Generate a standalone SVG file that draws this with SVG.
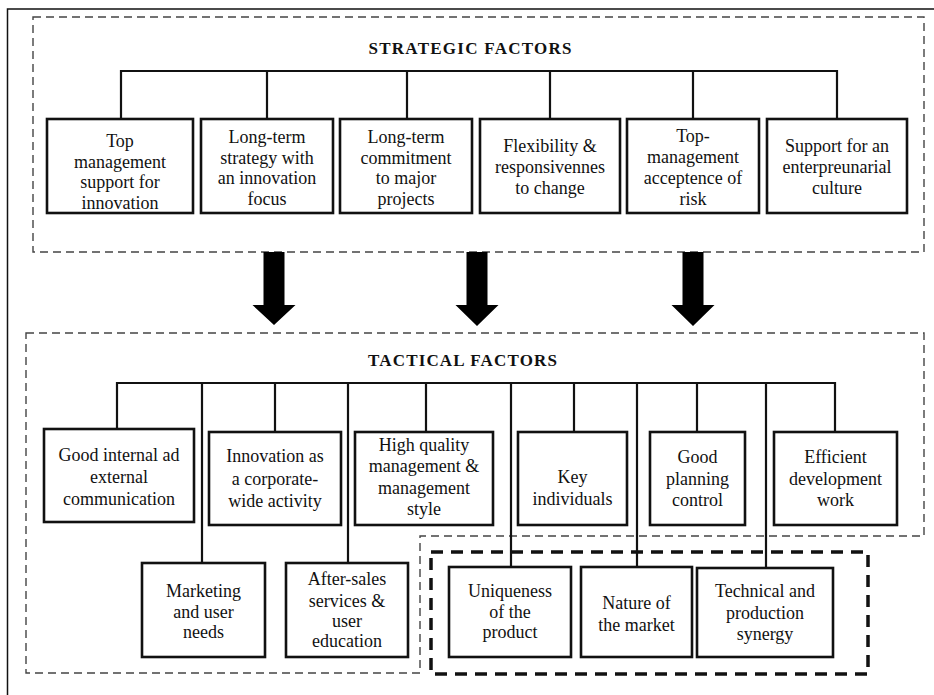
<svg xmlns="http://www.w3.org/2000/svg" width="934" height="695" viewBox="0 0 934 695">
<style>
.bg{fill:#fff}
.frame{fill:none;stroke:#111;stroke-width:1.5}
.dash{fill:none;stroke:#444;stroke-width:1.4;stroke-dasharray:8 5}
.bold{fill:none;stroke:#111;stroke-width:3.5;stroke-dasharray:12 8}
.box{fill:#fff;stroke:#111;stroke-width:2.6}
.con{fill:none;stroke:#111;stroke-width:2.2}
.arrow{fill:#000}
text{font-family:"Liberation Serif","Times New Roman",serif;font-size:18px;fill:#111;text-anchor:middle}
.title{font-weight:bold;font-size:17px}
</style>
<rect class="bg" x="0" y="0" width="934" height="695"/>
<path class="frame" d="M7.5,695 V9 H934"/>

<g id="strategic-group">
<rect class="dash" x="33" y="17" width="891" height="235"/>
<text class="title" x="470" y="53.5" textLength="203" lengthAdjust="spacing">STRATEGIC FACTORS</text>
</g>

<g id="tactical-group">
<path class="dash" d="M26,333 H924 V536 H420 V673 H26 Z"/>
<text class="title" x="462.5" y="365.5" textLength="189" lengthAdjust="spacing">TACTICAL FACTORS</text>
</g>

<g id="product-group">
<rect class="bold" x="431" y="552" width="437" height="122"/>
</g>

<g id="connectors">
<path class="con" d="M121,119 V71 H837 V119 M267,71 V119 M407,71 V119 M550,71 V119 M693,71 V119"/>
<path class="con" d="M117,429 V383 H835 V432 M202,383 V563 M275,383 V432 M348,383 V563 M426,383 V432 M511,383 V567 M574,383 V432 M637,383 V567 M697,383 V432 M766,383 V568"/>
<polygon class="arrow" points="263.5,252 284.5,252 284.5,305 295.5,305 274,325 252.5,305 263.5,305"/>
<polygon class="arrow" points="466.5,252 487.5,252 487.5,305 498.5,305 477,326 455.5,305 466.5,305"/>
<polygon class="arrow" points="682.5,252 703.5,252 703.5,305 714.5,305 693,326 671.5,305 682.5,305"/>
</g>

<g id="s1"><rect class="box" x="47" y="119" width="146" height="94"/>
<text x="120" y="147">Top</text><text x="120" y="167.5">management</text><text x="120" y="188">support for</text><text x="120" y="209">innovation</text></g>
<g id="s2"><rect class="box" x="201" y="119" width="132" height="94"/>
<text x="267" y="143">Long-term</text><text x="267" y="164">strategy with</text><text x="267" y="184">an innovation</text><text x="267" y="205">focus</text></g>
<g id="s3"><rect class="box" x="340" y="119" width="132" height="94"/>
<text x="406" y="143">Long-term</text><text x="406" y="164">commitment</text><text x="406" y="184">to major</text><text x="406" y="205">projects</text></g>
<g id="s4"><rect class="box" x="480" y="119" width="140" height="94"/>
<text x="550" y="152">Flexibility &amp;</text><text x="550" y="173">responsivennes</text><text x="550" y="194">to change</text></g>
<g id="s5"><rect class="box" x="627" y="119" width="132" height="94"/>
<text x="693" y="142">Top-</text><text x="693" y="163">management</text><text x="693" y="184">acceptence of</text><text x="693" y="205">risk</text></g>
<g id="s6"><rect class="box" x="767" y="119" width="140" height="94"/>
<text x="837" y="152">Support for an</text><text x="837" y="173">enterpreunarial</text><text x="837" y="194">culture</text></g>

<g id="t1"><rect class="box" x="44" y="429" width="150" height="93"/>
<text x="119" y="461">Good internal ad</text><text x="119" y="483">external</text><text x="119" y="505">communication</text></g>
<g id="t2"><rect class="box" x="209" y="432" width="132" height="93"/>
<text x="275" y="462">Innovation as</text><text x="275" y="485">a corporate-</text><text x="275" y="507">wide activity</text></g>
<g id="t3"><rect class="box" x="355" y="432" width="138" height="93"/>
<text x="424" y="451">High quality</text><text x="424" y="472">management &amp;</text><text x="424" y="494">management</text><text x="424" y="515">style</text></g>
<g id="t4"><rect class="box" x="518" y="432" width="109" height="93"/>
<text x="572.5" y="483">Key</text><text x="572.5" y="505">individuals</text></g>
<g id="t5"><rect class="box" x="650" y="432" width="95" height="93"/>
<text x="697.5" y="463">Good</text><text x="697.5" y="485">planning</text><text x="697.5" y="506">control</text></g>
<g id="t6"><rect class="box" x="774" y="432" width="123" height="93"/>
<text x="835.5" y="463">Efficient</text><text x="835.5" y="485">development</text><text x="835.5" y="506">work</text></g>
<g id="t7"><rect class="box" x="142" y="563" width="123" height="94"/>
<text x="203.5" y="597">Marketing</text><text x="203.5" y="618">and user</text><text x="203.5" y="638">needs</text></g>
<g id="t8"><rect class="box" x="286" y="563" width="122" height="94"/>
<text x="347" y="585">After-sales</text><text x="347" y="607">services &amp;</text><text x="347" y="627">user</text><text x="347" y="647">education</text></g>
<g id="t9"><rect class="box" x="449" y="567" width="122" height="90"/>
<text x="510" y="597">Uniqueness</text><text x="510" y="618">of the</text><text x="510" y="638">product</text></g>
<g id="t10"><rect class="box" x="581" y="567" width="111" height="90"/>
<text x="636.5" y="609">Nature of</text><text x="636.5" y="631">the market</text></g>
<g id="t11"><rect class="box" x="697" y="568" width="136" height="89"/>
<text x="765" y="597">Technical and</text><text x="765" y="619">production</text><text x="765" y="640">synergy</text></g>
</svg>
